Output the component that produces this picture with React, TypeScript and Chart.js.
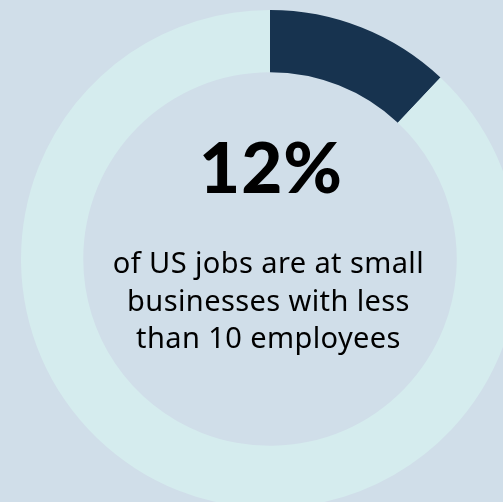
import React, { useEffect, useRef } from "react";
import { Chart, registerables } from "chart.js";

Chart.register(...registerables);

const categories = ["Jobs at businesses with <10 employees", "All other US jobs"];
const shareValues = [12, 88];
const sliceColors = ["#17334f", "#d5ecee"];
const headline = "12%";
const captionLines = ["of US jobs are at small", "businesses with less", "than 10 employees"];

export default function App() {
  const canvasRef = useRef<HTMLCanvasElement | null>(null);

  useEffect(() => {
    if (!canvasRef.current) return;
    const chart = new Chart(canvasRef.current, {
      type: "doughnut",
      data: {
        labels: categories,
        datasets: [
          {
            data: shareValues,
            backgroundColor: sliceColors,
            borderWidth: 0,
            hoverOffset: 0,
          },
        ],
      },
      options: {
        responsive: false,
        animation: false,
        cutout: "75%",
        layout: { padding: 0 },
        plugins: {
          legend: { display: false },
          tooltip: { enabled: false },
        },
      },
    });
    return () => chart.destroy();
  }, []);

  return (
    <div
      style={{
        position: "fixed",
        left: 0,
        top: 0,
        width: 503,
        height: 502,
        overflow: "hidden",
        background: "#d0dee9",
      }}
    >
      <div style={{ position: "absolute", left: 21, top: 9.5, width: 498, height: 498 }}>
        <canvas ref={canvasRef} width={498} height={498} style={{ display: "block" }} />
      </div>
      <div
        style={{
          position: "absolute",
          left: 0,
          width: 542,
          top: 130,
          textAlign: "center",
          fontFamily: "Lato, sans-serif",
          fontWeight: 900,
          fontSize: 71,
          lineHeight: "71px",
          letterSpacing: 1,
          color: "#000",
        }}
      >
        {headline}
      </div>
      <div
        style={{
          position: "absolute",
          left: 0,
          width: 537,
          top: 243.3,
          textAlign: "center",
          fontFamily: "'Noto Sans', sans-serif",
          fontWeight: 400,
          fontSize: 29,
          lineHeight: "37.5px",
          letterSpacing: 0.4,
          color: "#000",
        }}
      >
        {captionLines.map((l, i) => (
          <div key={i}>{l}</div>
        ))}
      </div>
    </div>
  );
}
